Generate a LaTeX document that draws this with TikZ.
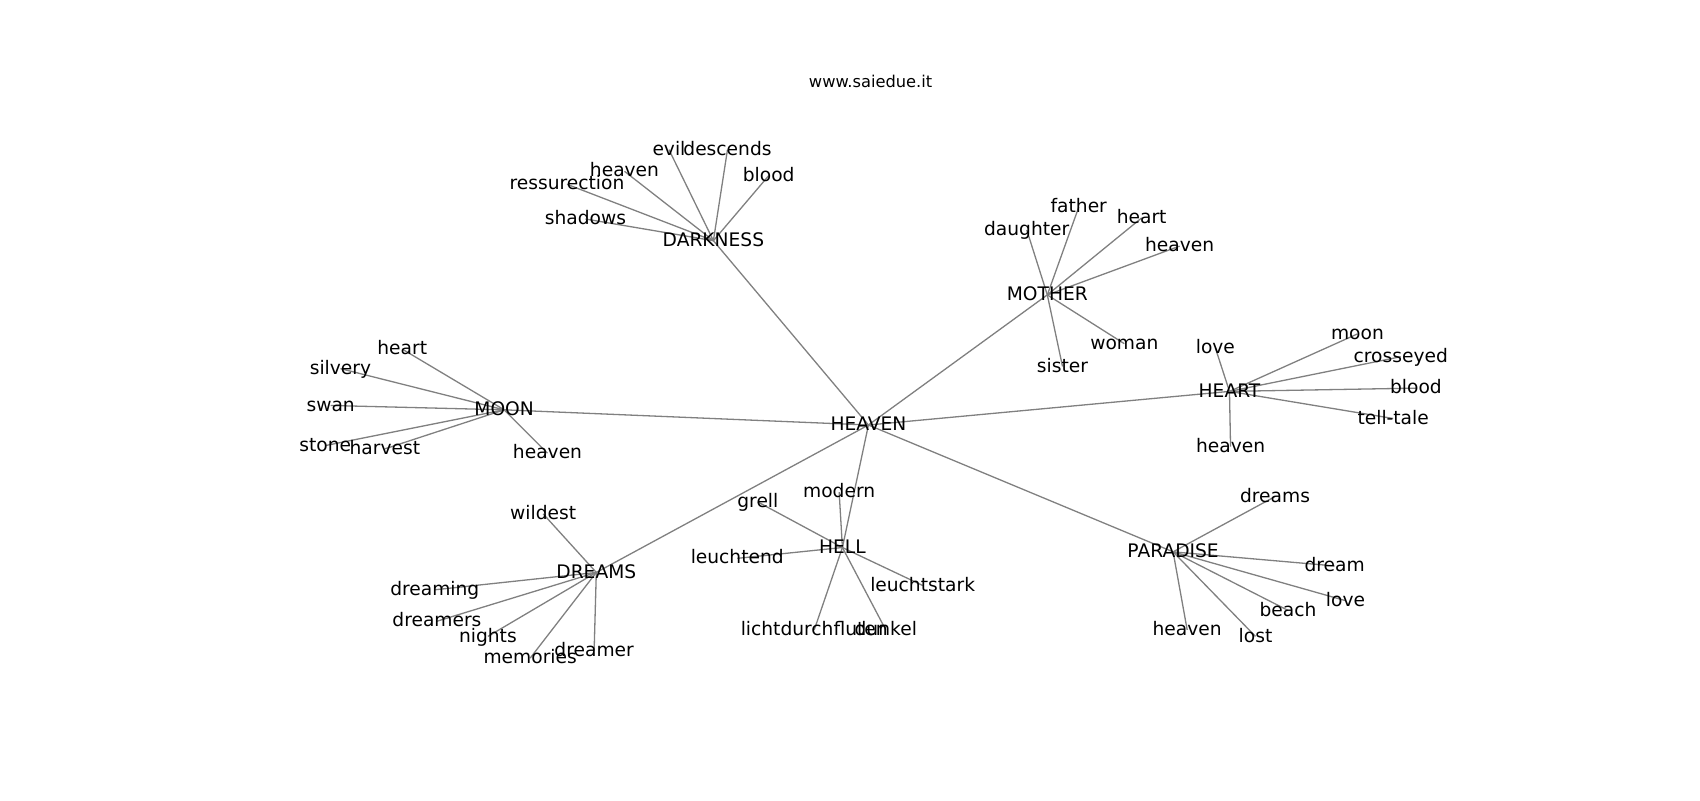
\documentclass[tikz,border=0pt]{standalone}
\usepackage{fontspec}
\setmainfont{DejaVu Sans}
\usepackage{tikz}
\usetikzlibrary{backgrounds}

\tikzset{
  word/.style={inner sep=0pt, text height=0.76em, text depth=0.24em, font=\fontsize{8.6}{10}\selectfont},
  link/.style={draw=black!50, line width=0.6pt}
}

\begin{document}
\begin{tikzpicture}[x=0.5pt, y=-0.5pt]
\useasboundingbox (0,0) rectangle (1568,738);
\node[font=\fontsize{7.5}{9}\selectfont] at (803,75) (title) {www.saiedue.it};
% hubs
\node[word] at (801,392) (heaven) {HEAVEN};
\node[word] at (658,222) (dark) {DARKNESS};
\node[word] at (966,272) (mother) {MOTHER};
\node[word] at (1134,361) (heart) {HEART};
\node[word] at (465,378) (moon) {MOON};
\node[word] at (550,528) (dreams) {DREAMS};
\node[word] at (777,505) (hell) {HELL};
\node[word] at (1082,509) (paradise) {PARADISE};
% darkness
\node[word] at (617,138) (d1) {evil};
\node[word] at (671,138) (d6) {descends};
\node[word] at (576,158) (d2) {heaven};
\node[word] at (709,162) (d3) {blood};
\node[word] at (523,170) (d4) {ressurection};
\node[word] at (540,202) (d5) {shadows};
% mother
\node[word] at (995,191) (m1) {father};
\node[word] at (947,212) (m2) {daughter};
\node[word] at (1053,201) (m3) {heart};
\node[word] at (1088,227) (m4) {heaven};
\node[word] at (1037,317) (m5) {woman};
\node[word] at (980,338) (m6) {sister};
% heart
\node[word] at (1121,321) (h1) {love};
\node[word] at (1252,308) (h2) {moon};
\node[word] at (1292,329) (h3) {crosseyed};
\node[word] at (1306,358) (h4) {blood};
\node[word] at (1285,386) (h5) {tell-tale};
\node[word] at (1135,412) (h6) {heaven};
% moon
\node[word] at (371,322) (o1) {heart};
\node[word] at (314,340) (o2) {silvery};
\node[word] at (305,374) (o3) {swan};
\node[word] at (300,411) (o4) {stone};
\node[word] at (355,414) (o5) {harvest};
\node[word] at (505,418) (o6) {heaven};
% dreams
\node[word] at (501,474) (r1) {wildest};
\node[word] at (401,544) (r2) {dreaming};
\node[word] at (403,573) (r3) {dreamers};
\node[word] at (450,587) (r4) {nights};
\node[word] at (489,607) (r5) {memories};
\node[word] at (548,600) (r6) {dreamer};
% hell
\node[word] at (699,463) (l1) {grell};
\node[word] at (774,454) (l2) {modern};
\node[word] at (680,515) (l3) {leuchtend};
\node[word] at (851,540) (l4) {leuchtstark};
\node[word] at (751,581) (l5) {lichtdurchfluten};
\node[word] at (817,581) (l6) {dunkel};
% paradise
\node[word] at (1176,458) (p1) {dreams};
\node[word] at (1231,522) (p2) {dream};
\node[word] at (1241,554) (p3) {love};
\node[word] at (1188,563) (p4) {beach};
\node[word] at (1095,581) (p5) {heaven};
\node[word] at (1158,587) (p6) {lost};
\begin{scope}[on background layer]
\path[link] (heaven.center) edge (dark.center) edge (mother.center) edge (heart.center) edge (moon.center)
  edge (dreams.center) edge (hell.center) edge (paradise.center);
\path[link] (dark.center) edge (d1.center) edge (d6.center) edge (d2.center) edge (d3.center) edge (d4.center) edge (d5.center);
\path[link] (mother.center) edge (m1.center) edge (m2.center) edge (m3.center) edge (m4.center) edge (m5.center) edge (m6.center);
\path[link] (heart.center) edge (h1.center) edge (h2.center) edge (h3.center) edge (h4.center) edge (h5.center) edge (h6.center);
\path[link] (moon.center) edge (o1.center) edge (o2.center) edge (o3.center) edge (o4.center) edge (o5.center) edge (o6.center);
\path[link] (dreams.center) edge (r1.center) edge (r2.center) edge (r3.center) edge (r4.center) edge (r5.center) edge (r6.center);
\path[link] (hell.center) edge (l1.center) edge (l2.center) edge (l3.center) edge (l4.center) edge (l5.center) edge (l6.center);
\path[link] (paradise.center) edge (p1.center) edge (p2.center) edge (p3.center) edge (p4.center) edge (p5.center) edge (p6.center);
\end{scope}
\end{tikzpicture}
\end{document}
